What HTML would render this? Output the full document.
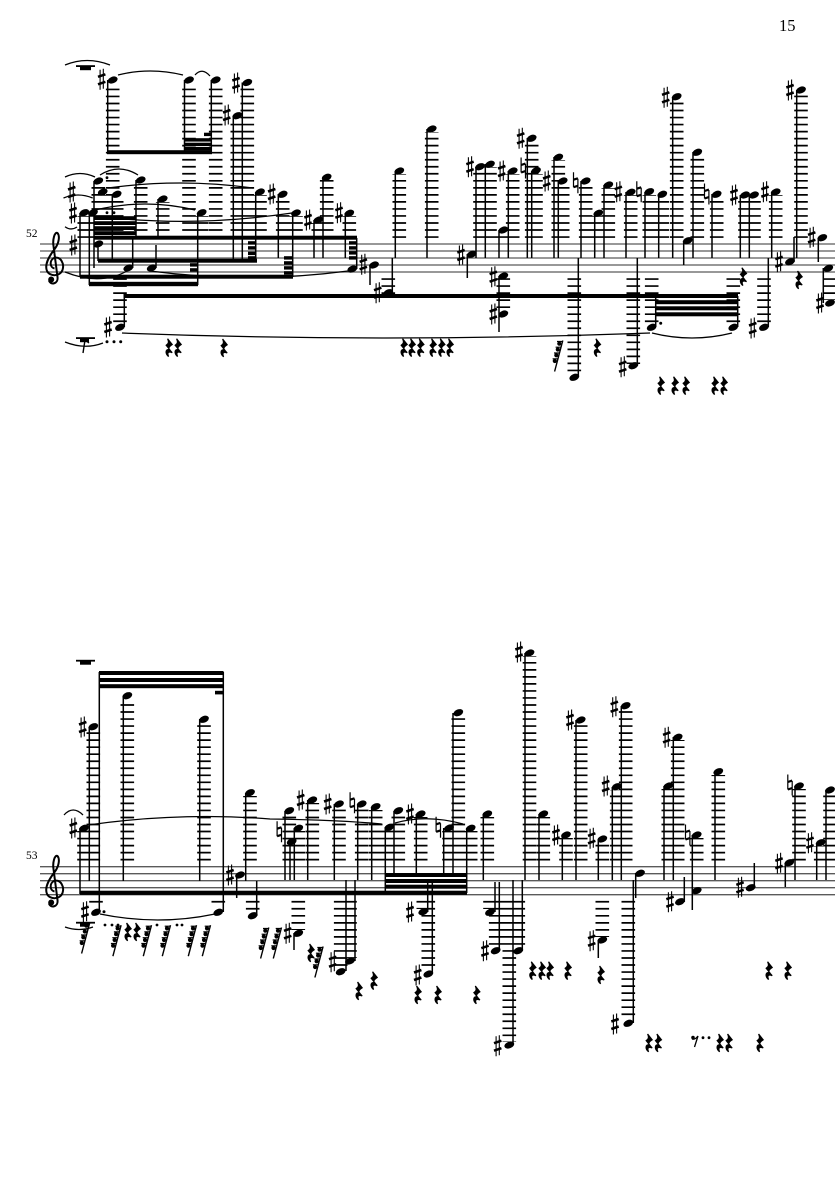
<!DOCTYPE html>
<html><head><meta charset="utf-8"><style>
html,body{margin:0;padding:0;background:#fff}
svg{display:block}
text{font-family:"Liberation Serif",serif;fill:#000}
.st{fill:none;stroke:#000;stroke-width:1.5}
.sf{fill:none;stroke:#5a5a5a;stroke-width:1.3}
.lg{fill:none;stroke:#000;stroke-width:13.6;stroke-dasharray:1.7 5.33}
.sl{fill:none;stroke:#000;stroke-width:1.25}
</style></head><body>
<svg xmlns="http://www.w3.org/2000/svg" width="835" height="1181" viewBox="0 0 835 1181">
<defs>
<ellipse id="h" cx="0" cy="0" rx="5.1" ry="3.3" transform="rotate(-22)"/>
<g id="s"><path d="M-1.6 -9.500V10.500M1.600 -10.500V9.500" stroke="#000" stroke-width="1.1" fill="none"/><path d="M-3.700 -2.500L3.700 -5M-3.700 5L3.700 2.500" stroke="#000" stroke-width="2.600" fill="none"/></g>
<g id="n"><path d="M-2.200 -10.500V4.500M2.200 -4V10.500" stroke="#000" stroke-width="1.200" fill="none"/><path d="M-2.200 -3L2.200 -4.400M-2.200 4.500L2.200 3.100" stroke="#000" stroke-width="2.200" fill="none"/></g>
<path id="r" d="M-1.400 -9L3.200 -3.200C.6 -1.500 -.4 0 -.2 1.200L3.200 5C0 3.600 -2.400 4.500 -.4 8.800C-3.800 6 -4 1.600 .4 1.600L-2.800 -2.400C-.6 -3.800 .2 -5.400 -1.400 -9Z" fill="#000" stroke="#000" stroke-width="1.200"/>
<g id="c"><path d="M4.800 -15.500L-3.400 15.500" stroke="#000" stroke-width="1.400" fill="none"/>
<circle cx="1.300" cy="-12.300" r="2.100"/><circle cx="-.2" cy="-6.500" r="2.100"/><circle cx="-1.700" cy="-.7" r="2.100"/><circle cx="-3.200" cy="5" r="2.100"/>
<path d="M-1 -14.500H4.300M-2.400 -8.800H2.800M-4 -3H1.300M-5.400 2.800H-.2" stroke="#000" stroke-width="1.200" fill="none"/></g>
<g id="t"><path d="M54.500 268.500C49.500 267.500 49.500 260 54 258C61 256 64.500 264 62.500 270C60 276.500 50 277 47 271C44 264 50 255 55 248.500C59 243 60 236 57.500 233C54.500 231.500 52.500 240 53.500 246L57.500 277C58.500 284 50.500 285.500 49 280.500" fill="none" stroke="#000" stroke-width="2"/><circle cx="51.200" cy="279.500" r="3"/></g>
</defs>
<rect width="835" height="1181" fill="#fff"/>
<text x="779" y="31" font-size="16.5">15</text>
<text x="26" y="237" font-size="11.5">52</text>
<text x="26" y="859" font-size="11.5">53</text>

<!-- staves -->
<path class="sf" d="M40 244H835M40 251H835M40 258H835M40 265H835M40 272H835"/>
<path class="sf" d="M40 866.700H835M40 873.700H835M40 880.700H835M40 887.700H835M40 894.700H835"/>
<use href="#t"/>
<use href="#t" y="623"/>

<!-- ledger lines, system 1 above -->
<path class="lg" d="M112.700 237.900V84M189 237.900V84M215.700 237.900V84M247.300 237.900V86M237.300 237.900V119M93 237.900V216M84.300 237.900V216M98.300 237.900V184M102.700 237.900V195M116.700 237.900V197M140.700 237.900V183M162.700 237.900V202M201.700 237.900V216M260 237.900V195M282.700 237.900V197M296 237.900V216M318.300 237.900V223M326.700 237.900V180M349.300 237.900V216M399.300 237.900V174M431.700 237.900V132M480 237.900V170M490 237.900V167M503.300 237.900V233M512.700 237.900V174M531.700 237.900V141M536 237.900V174M558.300 237.900V160M562.700 237.900V184M585.700 237.900V184M598.300 237.900V216M608.300 237.900V188M630.700 237.900V195M649.300 237.900V195M662.300 237.900V197M676.700 237.900V100M697.300 237.900V155M716.700 237.900V197M745 237.900V198M754 237.900V198M775.700 237.900V195M801 237.900V93"/>
<!-- system 1 below -->
<path class="lg" d="M120 278.200V324M388.300 278.200V294M503.300 278.200V311M574.300 278.200V375M633.300 278.200V364M651.700 278.200V324M733.300 278.200V324M764 278.200V324M830 278.200V300"/>
<!-- system 2 above -->
<path class="lg" d="M93.300 860.500V730M127.300 860.500V699M204 860.500V722M84 860.500V831M250 860.500V796M291.700 860.500V845M298.300 860.500V831M289.300 860.500V814M312.300 860.500V803M339 860.500V807M361.700 860.500V807M375.700 860.500V810M389.300 860.500V830M398.300 860.500V814M420.700 860.500V817M449 860.500V831M458.300 860.500V716M470.700 860.500V831M487.300 860.500V817M529.500 860.500V656M543.300 860.500V817M566 860.500V838M580.700 860.500V723M602.300 860.500V842M616.700 860.500V790M625.700 860.500V709M668.300 860.500V789M677.700 860.500V740M696.700 860.500V838M718.300 860.500V775M799 860.500V789M820.700 860.500V846M830 860.500V793"/>
<!-- system 2 below -->
<path class="lg" d="M96 900.900V906M218.300 900.900V906M252.700 900.900V912M298.300 900.900V930M423.300 900.900V909M428.300 900.900V971M490 900.900V909M495.700 900.900V948M518.300 900.900V948M509.300 900.900V1042M602.300 900.900V937M628.300 900.900V1020M340.700 900.900V969M350 900.900V958"/>

<!-- stems -->
<path class="st" d="M107.700 80V153M184.500 80V153M211.300 80V153M242.300 82.500V261M233.300 115.700V261M80 213V277M89.300 213V285M94 181V268M98 244V261M112.300 194V261M136 180V238M158 199V238M132.700 238V268M156 245V268M197.700 213V285M255.700 192V261M278.300 194V258M292.700 213V277M314 220V258M323 177V258M345.300 213V258M356.700 238V269M370 265V285M392.300 258V293M395.300 171V258M427 129V258M467.300 254V278M476 167V258M485.300 164V258M499 230V258M508.300 171V258M527.300 138V258M531.700 171V258M554 157V258M558.300 181V258M499 276V332M124.300 296V327M578.300 258V377M581 181V258M594.700 213V258M604 185V258M626 192V258M645 192V258M658.700 194V258M672.700 97V258M683.700 241V265M693 152V258M712 194V258M740.300 195V258M749.300 195V258M771.700 192V258M796.700 90V258M794 237V262M818.300 238V262M823.300 268V303M655.700 296V327M737.700 296V327M637.300 258V366M768.300 258V327"/>
<path class="st" d="M99.300 672V912M223.300 672V912M89.300 727V881M123.300 696V881M199.700 719V881M80 828V894M236.700 875V898M245.700 793V881M256.700 881V916M294 933V950M285 811V880M290 842V880M294.300 828V880M307.700 800V880M334.300 804V880M357.700 804V880M371.700 807V880M385.300 827V893M394 811V875M416.300 814V875M443.700 828V875M453 713V875M466.700 828V893M483.300 814V880M525 653V880M539 814V880M427.700 882V912M432.300 882V974M495 882V912M499.300 882V951M522.300 880V951M513 880V1045M562.300 835V880M576 720V880M598.300 839V880M612.300 787V880M621.300 706V880M635.700 873V898M633.300 880V1023M598.300 940V958M664 786V880M673.300 737V880M692.300 835V910M684.300 877V902M715 772V880M754.300 863V888M785.300 863V887M795 786V880M816.700 843V880M826 790V880M346 880V971M355 880V961"/>

<!-- beams system 1 -->
<g fill="#000">
<rect x="107" y="150.200" width="105" height="4"/>
<rect x="184" y="138.200" width="27.500" height="3.400"/><rect x="184" y="142.700" width="27.500" height="3.400"/><rect x="184" y="147" width="27.500" height="3.400"/>
<rect x="204" y="132.700" width="7.500" height="3.400"/>
<rect x="94" y="216.200" width="42.500" height="3.800"/><rect x="94" y="221.200" width="42.500" height="3.800"/><rect x="94" y="226.200" width="42.500" height="3.800"/><rect x="94" y="231.200" width="42.500" height="3.800"/>
<rect x="94" y="235.700" width="263" height="4"/>
<rect x="98" y="258.700" width="159" height="4"/>
<rect x="80" y="274.700" width="213" height="4"/>
<rect x="89" y="281.800" width="109" height="4.400"/>
<rect x="248" y="241.200" width="8.500" height="3.400"/><rect x="248" y="246.200" width="8.500" height="3.400"/><rect x="248" y="251.700" width="8.500" height="3.400"/><rect x="248" y="256.200" width="8.500" height="3.400"/>
<rect x="190" y="263.200" width="8" height="3.400"/><rect x="190" y="268.200" width="8" height="3.400"/>
<rect x="284" y="256.200" width="9" height="3.400"/><rect x="284" y="261.200" width="9" height="3.400"/><rect x="284" y="266.200" width="9" height="3.400"/><rect x="284" y="271.200" width="9" height="3.400"/>
<rect x="349" y="241.200" width="8" height="3.400"/><rect x="349" y="246.200" width="8" height="3.400"/><rect x="349" y="251.200" width="8" height="3.400"/><rect x="349" y="256.200" width="8" height="3.400"/>
<rect x="123.500" y="294" width="614.500" height="4"/>
<rect x="655.500" y="300.200" width="82.500" height="4"/><rect x="655.500" y="306.300" width="82.500" height="4"/><rect x="655.500" y="312.300" width="82.500" height="4"/>
<!-- beams system 2 -->
<rect x="99" y="671" width="124.500" height="4"/><rect x="99" y="678" width="124.500" height="4"/><rect x="99" y="684.200" width="124.500" height="4"/>
<rect x="215" y="690.800" width="8" height="3.600"/>
<rect x="80" y="890.700" width="387" height="4.200"/>
<rect x="385" y="873" width="82" height="4"/><rect x="385" y="879" width="82" height="4"/><rect x="385" y="884.700" width="82" height="4"/>

<!-- rest bars -->
<rect x="76" y="65.200" width="19" height="1.800"/><rect x="80" y="66" width="11" height="4.200"/>
<rect x="76" y="337.200" width="19" height="1.800"/><rect x="80" y="338" width="9" height="4.200"/>
<path d="M89 343L85 340L83 353" fill="none" stroke="#000" stroke-width="1.400"/>
<circle cx="107" cy="341.700" r="1.500"/><circle cx="114" cy="341.700" r="1.500"/><circle cx="120.700" cy="341.700" r="1.500"/>
<rect x="76" y="659.800" width="19" height="1.800"/><rect x="80" y="660.500" width="11" height="4.200"/>
<rect x="76" y="921.800" width="19" height="1.800"/><rect x="80" y="922.500" width="9" height="4.200"/>

<!-- dots -->
<circle cx="107" cy="177.700" r="1.400"/><circle cx="107" cy="212.700" r="1.400"/><circle cx="114" cy="212.700" r="1.400"/>
<circle cx="660.700" cy="323.300" r="1.500"/>
<circle cx="104" cy="911.700" r="1.500"/><circle cx="105" cy="925" r="1.400"/><circle cx="112" cy="925" r="1.400"/><circle cx="118" cy="925" r="1.400"/><circle cx="157" cy="925" r="1.400"/><circle cx="177" cy="925" r="1.400"/><circle cx="182" cy="925" r="1.400"/>
<circle cx="703" cy="1037.700" r="1.400"/><circle cx="709" cy="1037.700" r="1.400"/>
<circle cx="693" cy="1037.500" r="1.800"/>
<path d="M692 1039Q695 1040 698 1036L694.500 1047" fill="none" stroke="#000" stroke-width="1.300"/>

<!-- noteheads system 1 -->
<use href="#h" x="112.700" y="80"/><use href="#h" x="189" y="80"/><use href="#h" x="215.700" y="80"/><use href="#h" x="247.300" y="82.500"/><use href="#h" x="237.300" y="115.700"/><use href="#h" x="84.300" y="212.700"/><use href="#h" x="93" y="212.700"/><use href="#h" x="98.300" y="181"/><use href="#h" x="102.700" y="192"/><use href="#h" x="116.700" y="194.300"/><use href="#h" x="98.300" y="244"/><use href="#h" x="140.700" y="180"/><use href="#h" x="162.700" y="199"/><use href="#h" x="151.700" y="268"/><use href="#h" x="128.300" y="268"/><use href="#h" x="201.700" y="212.700"/><use href="#h" x="260" y="192"/><use href="#h" x="282.700" y="194.300"/><use href="#h" x="296" y="213"/><use href="#h" x="318.300" y="220"/><use href="#h" x="326.700" y="177.300"/><use href="#h" x="349.300" y="213.300"/><use href="#h" x="352.300" y="269"/><use href="#h" x="374" y="265"/><use href="#h" x="388.300" y="292.700"/><use href="#h" x="399.300" y="171"/><use href="#h" x="431.700" y="129"/><use href="#h" x="471.700" y="254.300"/><use href="#h" x="480" y="166.700"/><use href="#h" x="490" y="164.300"/><use href="#h" x="503.300" y="230"/><use href="#h" x="512.700" y="171"/><use href="#h" x="531.700" y="138.300"/><use href="#h" x="536" y="170.700"/><use href="#h" x="558.300" y="157.300"/><use href="#h" x="562.700" y="181"/><use href="#h" x="503.300" y="276"/><use href="#h" x="503.300" y="314"/><use href="#h" x="120" y="327.300"/><use href="#h" x="574.300" y="377.300"/><use href="#h" x="585.700" y="181"/><use href="#h" x="598.300" y="213.300"/><use href="#h" x="608.300" y="185"/><use href="#h" x="630.700" y="192.300"/><use href="#h" x="649.300" y="191.700"/><use href="#h" x="662.300" y="194.300"/><use href="#h" x="676.700" y="96.700"/><use href="#h" x="687.700" y="240.700"/><use href="#h" x="697.300" y="152.300"/><use href="#h" x="716.700" y="194.300"/><use href="#h" x="745" y="195"/><use href="#h" x="754" y="195"/><use href="#h" x="775.700" y="192"/><use href="#h" x="801" y="90"/><use href="#h" x="790" y="261.700"/><use href="#h" x="822.300" y="237.700"/><use href="#h" x="828.300" y="268.300"/><use href="#h" x="830" y="303"/><use href="#h" x="651.700" y="327.300"/><use href="#h" x="733.300" y="327.300"/><use href="#h" x="633.300" y="365.700"/><use href="#h" x="764" y="327.300"/>
<!-- noteheads system 2 -->
<use href="#h" x="93.300" y="726.700"/><use href="#h" x="127.300" y="695.700"/><use href="#h" x="204" y="719.300"/><use href="#h" x="84" y="828.300"/><use href="#h" x="96" y="912.300"/><use href="#h" x="218.300" y="912.300"/><use href="#h" x="240" y="875"/><use href="#h" x="250" y="792.700"/><use href="#h" x="252.700" y="915.700"/><use href="#h" x="298.300" y="933.300"/><use href="#h" x="291.700" y="841.700"/><use href="#h" x="298.300" y="828.300"/><use href="#h" x="289.300" y="810.700"/><use href="#h" x="312.300" y="800"/><use href="#h" x="339" y="804"/><use href="#h" x="361.700" y="804"/><use href="#h" x="375.700" y="806.700"/><use href="#h" x="389.300" y="827.300"/><use href="#h" x="398.300" y="810.700"/><use href="#h" x="420.700" y="814"/><use href="#h" x="449" y="828"/><use href="#h" x="458.300" y="712.700"/><use href="#h" x="470.700" y="828.300"/><use href="#h" x="487.300" y="814"/><use href="#h" x="529.500" y="653"/><use href="#h" x="543.300" y="814"/><use href="#h" x="423.300" y="911.700"/><use href="#h" x="428.300" y="974"/><use href="#h" x="490" y="912.300"/><use href="#h" x="495.700" y="950.700"/><use href="#h" x="518.300" y="950.700"/><use href="#h" x="509.300" y="1045"/><use href="#h" x="340.700" y="971.700"/><use href="#h" x="350" y="961"/><use href="#h" x="566" y="835"/><use href="#h" x="580.700" y="720"/><use href="#h" x="602.300" y="839"/><use href="#h" x="616.700" y="786.700"/><use href="#h" x="625.700" y="705.700"/><use href="#h" x="640" y="873.300"/><use href="#h" x="628.300" y="1023.300"/><use href="#h" x="602.300" y="940"/><use href="#h" x="668.300" y="786"/><use href="#h" x="677.700" y="737.300"/><use href="#h" x="696.700" y="835"/><use href="#h" x="696.700" y="890.700"/><use href="#h" x="680" y="901.700"/><use href="#h" x="718.300" y="771.700"/><use href="#h" x="750.700" y="887.700"/><use href="#h" x="789.300" y="862.700"/><use href="#h" x="799" y="786"/><use href="#h" x="820.700" y="842.700"/><use href="#h" x="830" y="790"/>
</g>

<!-- sharps -->
<use href="#s" x="73.300" y="245"/><use href="#s" x="101.700" y="79.300"/><use href="#s" x="236" y="83"/><use href="#s" x="226.700" y="115"/><use href="#s" x="73" y="213"/><use href="#s" x="71.700" y="192"/><use href="#s" x="271.700" y="194"/><use href="#s" x="308" y="220"/><use href="#s" x="339" y="212.700"/><use href="#s" x="363.300" y="264.300"/><use href="#s" x="377.700" y="292.700"/><use href="#s" x="461" y="255"/><use href="#s" x="470" y="166.700"/><use href="#s" x="501.700" y="171"/><use href="#s" x="520.700" y="138.300"/><use href="#s" x="546.700" y="181"/><use href="#s" x="493.300" y="276.700"/><use href="#s" x="493.300" y="314"/><use href="#s" x="108" y="327"/><use href="#s" x="618.300" y="191.700"/><use href="#s" x="665.700" y="97.300"/><use href="#s" x="734" y="195"/><use href="#s" x="765" y="191.700"/><use href="#s" x="790" y="90"/><use href="#s" x="779" y="261.700"/><use href="#s" x="811.700" y="237.300"/><use href="#s" x="820" y="303"/><use href="#s" x="622.700" y="366.700"/><use href="#s" x="752.700" y="328"/>
<use href="#s" x="82.700" y="727"/><use href="#s" x="73.300" y="828"/><use href="#s" x="85" y="911.700"/><use href="#s" x="230" y="875"/><use href="#s" x="287.700" y="933.300"/><use href="#s" x="300.700" y="800"/><use href="#s" x="327.700" y="804"/><use href="#s" x="410" y="814"/><use href="#s" x="410" y="912"/><use href="#s" x="417.700" y="975"/><use href="#s" x="485" y="950.700"/><use href="#s" x="497.700" y="1045.700"/><use href="#s" x="332.700" y="961.700"/><use href="#s" x="519" y="652"/><use href="#s" x="556" y="835"/><use href="#s" x="570" y="720"/><use href="#s" x="591.700" y="838.300"/><use href="#s" x="605.700" y="786"/><use href="#s" x="614.300" y="706.700"/><use href="#s" x="615" y="1024"/><use href="#s" x="591.700" y="940.700"/><use href="#s" x="666.700" y="737.300"/><use href="#s" x="670" y="901.700"/><use href="#s" x="740" y="887.300"/><use href="#s" x="779" y="863.300"/><use href="#s" x="810" y="842.700"/>

<!-- naturals -->
<use href="#n" x="523.300" y="168"/><use href="#n" x="575.700" y="182.700"/><use href="#n" x="639" y="191.700"/><use href="#n" x="706.700" y="194"/>
<use href="#n" x="279.300" y="831.700"/><use href="#n" x="352.300" y="802.700"/><use href="#n" x="438.300" y="827.300"/><use href="#n" x="687.700" y="835"/><use href="#n" x="790" y="785"/>

<!-- rests -->
<use href="#r" x="169" y="347.700"/><use href="#r" x="178" y="347.700"/><use href="#r" x="224" y="348"/><use href="#r" x="404" y="347.700"/><use href="#r" x="412" y="347.700"/><use href="#r" x="420.700" y="347.700"/><use href="#r" x="433" y="347.700"/><use href="#r" x="441.700" y="347.700"/><use href="#r" x="450" y="347.700"/><use href="#r" x="743.300" y="276.700"/><use href="#r" x="799" y="280"/><use href="#r" x="597.300" y="347.700"/><use href="#r" x="661" y="385.700"/><use href="#r" x="675" y="385.700"/><use href="#r" x="686" y="385.700"/><use href="#r" x="715" y="385.700"/><use href="#r" x="724" y="385.700"/>
<use href="#r" x="128" y="932"/><use href="#r" x="137" y="932"/><use href="#r" x="311" y="953"/><use href="#r" x="359" y="991"/><use href="#r" x="374" y="980.700"/><use href="#r" x="418" y="995"/><use href="#r" x="438" y="995"/><use href="#r" x="476.700" y="995"/><use href="#r" x="532.700" y="970.700"/><use href="#r" x="542" y="970.700"/><use href="#r" x="550" y="970.700"/><use href="#r" x="568" y="970.700"/><use href="#r" x="601" y="975"/><use href="#r" x="649" y="1043"/><use href="#r" x="658.300" y="1043"/><use href="#r" x="720" y="1043"/><use href="#r" x="729" y="1043"/><use href="#r" x="760" y="1043"/><use href="#r" x="769" y="970.700"/><use href="#r" x="788" y="970.700"/>

<!-- flag clusters -->
<use href="#c" x="558" y="356"/>
<use href="#c" x="116.300" y="940.700"/><use href="#c" x="146.700" y="940.700"/><use href="#c" x="165.700" y="940.700"/><use href="#c" x="191.700" y="940.700"/><use href="#c" x="205.700" y="940.700"/><use href="#c" x="85" y="938"/><use href="#c" x="264" y="943"/><use href="#c" x="276.700" y="943"/><use href="#c" x="318.300" y="962"/>

<!-- slurs and ties -->
<path class="sl" d="M65 65Q87 56 110 65"/>
<path class="sl" d="M118 75Q150 67 183 75"/>
<path class="sl" d="M195 75Q202 67 210 76"/>
<path class="sl" d="M65 177Q80 170 95 177"/>
<path class="sl" d="M63.500 198Q78 192 92.700 198"/>
<path class="sl" d="M65 226.700Q71 231 77 227"/>
<path class="sl" d="M100 175Q119 163 138 175"/>
<path class="sl" d="M108 188Q180 178 253 188"/>
<path class="sl" d="M95 210Q145 198 195 210"/>
<path class="sl" d="M95 216Q190 228 292 213"/>
<path class="sl" d="M65 272Q100 286 127 271"/>
<path class="sl" d="M150 271Q250 284 348 271"/>
<path class="sl" d="M122 333Q385 343 650 333"/>
<path class="sl" d="M652 333Q692 343 732 333"/>
<path class="sl" d="M65 342Q85 350 103 343"/>
<path class="sl" d="M64 815Q73 805 83 815"/>
<path class="sl" d="M88 825Q180 812 270 819Q340 820 381.700 824"/>
<path class="sl" d="M395 823Q427 814 463 824"/>
<path class="sl" d="M100 914Q158 926 215 914"/>
<path class="sl" d="M65 927Q79 932 93 927"/>
</svg>
</body></html>
